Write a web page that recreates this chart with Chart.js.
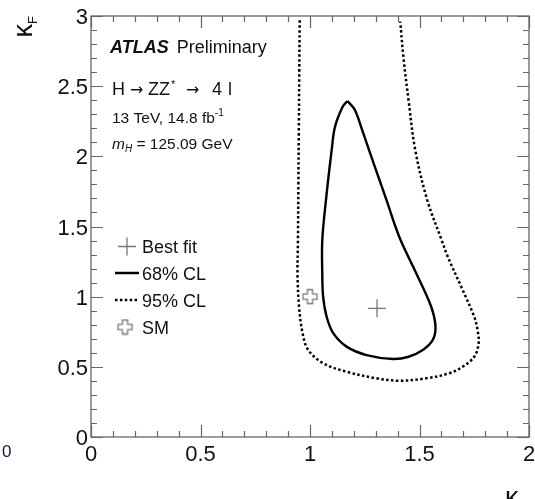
<!DOCTYPE html>
<html>
<head>
<meta charset="utf-8">
<script src="https://cdn.jsdelivr.net/npm/chart.js@4/dist/chart.umd.min.js"></script>
<style>
html,body{margin:0;padding:0;background:#fff;overflow:hidden;}
#c{display:block;}
</style>
</head>
<body>
<canvas id="c" width="535" height="499"></canvas>
<script>
// ---- Data ----
const cl95KappaV = [0.953,0.951,0.949,0.947,0.945,0.943,0.950,0.966,0.992,1.061,1.167,1.303,1.409,1.530,1.636,1.697,1.750,1.770,1.765,1.750,1.697,1.629,1.601,1.535,1.480,1.450,1.427,1.412];
const cl95KappaF = [2.970,2.600,2.200,1.800,1.400,1.160,0.930,0.740,0.620,0.525,0.465,0.418,0.401,0.418,0.454,0.501,0.572,0.668,0.763,0.857,1.048,1.285,1.404,1.690,2.050,2.400,2.700,2.960];
const cl68KappaV = [1.171,1.205,1.242,1.295,1.349,1.390,1.420,1.485,1.553,1.573,1.560,1.515,1.450,1.379,1.258,1.167,1.106,1.076,1.060,1.056,1.056,1.073,1.099,1.114,1.149,1.171];
const cl68KappaF = [2.395,2.330,2.170,1.930,1.690,1.500,1.380,1.167,0.930,0.786,0.690,0.620,0.572,0.556,0.584,0.644,0.740,0.857,1.000,1.167,1.400,1.690,2.045,2.210,2.354,2.395];
const bestFitPoint = [1.306, 0.917];
const smPoint = [1.0, 1.0];

const xTickValues = [0, 0.5, 1, 1.5, 2];
const xTickLabels = ['0', '0.5', '1', '1.5', '2'];
const yTickValues = [0, 0.5, 1, 1.5, 2, 2.5, 3];
const yTickLabels = ['0', '0.5', '1', '1.5', '2', '2.5', '3'];
const legendLabels = ['Best fit', '68% CL', '95% CL', 'SM'];

const FONT = '"Liberation Sans", Arial, Helvetica, sans-serif';
const FRAME = '#666';
const DOTS = [2.5, 2.4];

function zip(a, b){ return a.map((v,i)=>({x:v, y:b[i]})); }

// open-cross marker for SM
function makeOpenCross(){
  const s = 17, c = 8.5, a = 2.6, L = 7;
  const cv = document.createElement('canvas');
  cv.width = s; cv.height = s;
  const g = cv.getContext('2d');
  g.beginPath();
  g.moveTo(c-a, c-L); g.lineTo(c+a, c-L); g.lineTo(c+a, c-a); g.lineTo(c+L, c-a);
  g.lineTo(c+L, c+a); g.lineTo(c+a, c+a); g.lineTo(c+a, c+L); g.lineTo(c-a, c+L);
  g.lineTo(c-a, c+a); g.lineTo(c-L, c+a); g.lineTo(c-L, c-a); g.lineTo(c-a, c-a);
  g.closePath();
  g.fillStyle = '#fff'; g.fill();
  g.strokeStyle = '#777'; g.lineWidth = 1.3; g.stroke();
  return cv;
}
const openCross = makeOpenCross();

const decor = {
  id: 'decor',
  afterDraw(chart){
    const ctx = chart.ctx;
    const ca = chart.chartArea;
    const xs = chart.scales.x, ys = chart.scales.y;
    ctx.save();
    // frame
    ctx.strokeStyle = FRAME; ctx.lineWidth = 1.3;
    ctx.strokeRect(ca.left, ca.top, ca.right - ca.left, ca.bottom - ca.top);
    // ticks
    const MAJ = 12, MIN = 6;
    ctx.beginPath();
    for (let i = 0; i <= 20; i++){
      const v = i * 0.1;
      const len = (i % 5 === 0) ? MAJ : MIN;
      const px = Math.round(xs.getPixelForValue(v)) + 0.5;
      ctx.moveTo(px, ca.bottom); ctx.lineTo(px, ca.bottom - len);
      ctx.moveTo(px, ca.top); ctx.lineTo(px, ca.top + len);
    }
    for (let i = 0; i <= 30; i++){
      const v = i * 0.1;
      const len = (i % 5 === 0) ? MAJ : MIN;
      const py = Math.round(ys.getPixelForValue(v)) + 0.5;
      ctx.moveTo(ca.left, py); ctx.lineTo(ca.left + len, py);
      ctx.moveTo(ca.right, py); ctx.lineTo(ca.right - len, py);
    }
    ctx.lineWidth = 1.2; ctx.stroke();

    ctx.fillStyle = '#111';
    ctx.textBaseline = 'alphabetic';
    ctx.textAlign = 'left';
    // ATLAS Preliminary
    ctx.font = 'italic bold 18px ' + FONT;
    ctx.fillText('ATLAS', 110, 53);
    let w = ctx.measureText('ATLAS').width;
    ctx.font = '18px ' + FONT;
    ctx.fillText('Preliminary', 110 + w + 8, 53);
    // H -> ZZ* -> 4l
    ctx.font = '18px ' + FONT;
    ctx.fillText('H', 112, 95);
    ctx.fillText('ZZ', 148, 95);
    ctx.fillText('4', 212, 95);
    ctx.fillText('l', 228, 95);
    ctx.font = '16px "DejaVu Sans", sans-serif';
    ctx.fillText('\u2192', 130, 95);
    ctx.fillText('\u2192', 186, 95);
    ctx.font = '11px ' + FONT;
    ctx.fillText('*', 171, 88);
    // 13 TeV
    let x = 112;
    ctx.font = '15.5px ' + FONT;
    ctx.fillText('13 TeV, 14.8 fb', x, 123); x += ctx.measureText('13 TeV, 14.8 fb').width;
    ctx.font = '10px ' + FONT;
    ctx.fillText('-1', x, 116);
    // mH
    x = 112;
    ctx.font = 'italic 15.5px ' + FONT;
    ctx.fillText('m', x, 149); x += ctx.measureText('m').width;
    ctx.font = 'italic 10px ' + FONT;
    ctx.fillText('H', x, 152); x += ctx.measureText('H').width;
    ctx.font = '15.5px ' + FONT;
    ctx.fillText(' = 125.09 GeV', x, 149);

    // Legend
    ctx.font = '18px ' + FONT;
    ctx.fillStyle = '#111';
    const lx = 142;
    ctx.strokeStyle = '#777'; ctx.lineWidth = 1.3; ctx.setLineDash([]);
    ctx.beginPath();
    ctx.moveTo(118, 246.5); ctx.lineTo(136, 246.5);
    ctx.moveTo(127, 237.5); ctx.lineTo(127, 255.5);
    ctx.stroke();
    ctx.fillText(legendLabels[0], lx, 252.5);
    ctx.strokeStyle = '#000'; ctx.lineWidth = 2.5;
    ctx.beginPath(); ctx.moveTo(115, 273); ctx.lineTo(139, 273); ctx.stroke();
    ctx.fillText(legendLabels[1], lx, 279.5);
    ctx.setLineDash(DOTS);
    ctx.beginPath(); ctx.moveTo(115, 300); ctx.lineTo(139, 300); ctx.stroke();
    ctx.setLineDash([]);
    ctx.fillText(legendLabels[2], lx, 306.5);
    ctx.drawImage(openCross, 125 - 8.5, 327 - 8.5);
    ctx.fillText(legendLabels[3], lx, 333.5);

    // axis titles
    ctx.fillStyle = '#111';
    ctx.save();
    ctx.translate(32, 0);
    ctx.rotate(-Math.PI/2);
    ctx.textAlign = 'right';
    ctx.font = '13px ' + FONT;
    const fw = ctx.measureText('F').width;
    ctx.fillText('F', -16, 5);
    ctx.font = '27px ' + FONT;
    ctx.fillText('\u03BA', -16 - fw, 0);
    ctx.restore();

    ctx.font = '27px ' + FONT;
    ctx.textAlign = 'left';
    ctx.fillText('\u03BA', 505, 506);
    ctx.font = '13px ' + FONT;
    ctx.fillText('V', 520, 509);

    // stray zero at far left
    ctx.font = '17px ' + FONT;
    ctx.fillStyle = '#0b1a3a';
    ctx.fillText('0', 2, 457);
    ctx.restore();
  }
};

new Chart(document.getElementById('c'), {
  type: 'scatter',
  data: {
    datasets: [
      { label: legendLabels[2], data: zip(cl95KappaV, cl95KappaF), showLine: true, borderColor: '#000', borderWidth: 2.5, borderDash: DOTS, pointRadius: 0, tension: 0.35, fill: false },
      { label: legendLabels[1], data: zip(cl68KappaV, cl68KappaF), showLine: true, borderColor: '#000', borderWidth: 2.4, pointRadius: 0, tension: 0.35, fill: false },
      { label: legendLabels[0], data: [{x: bestFitPoint[0], y: bestFitPoint[1]}], pointStyle: 'cross', radius: 9, borderColor: '#777', borderWidth: 1.3 },
      { label: legendLabels[3], data: [{x: smPoint[0], y: smPoint[1]}], pointStyle: openCross, radius: 8 }
    ]
  },
  options: {
    responsive: false,
    animation: false,
    devicePixelRatio: 1,
    layout: { autoPadding: false, padding: { top: 16, right: 6, left: 0, bottom: 0 } },
    plugins: { legend: { display: false }, tooltip: { enabled: false } },
    scales: {
      x: {
        type: 'linear', min: 0, max: 2,
        grid: { display: false, drawTicks: false },
        border: { display: false },
        afterFit(s){ s.height = 62; s.paddingRight = 0; s.paddingLeft = 0; },
        ticks: {
          stepSize: 0.5, autoSkip: false, maxRotation: 0, padding: 5,
          color: '#111', font: { family: FONT, size: 22 },
          callback(v){ const i = xTickValues.findIndex(m => Math.abs(m - v) < 1e-6); return i >= 0 ? xTickLabels[i] : ''; }
        }
      },
      y: {
        type: 'linear', min: 0, max: 3,
        grid: { display: false, drawTicks: false },
        border: { display: false },
        afterFit(s){ s.width = 91; s.paddingTop = 0; s.paddingBottom = 0; },
        ticks: {
          stepSize: 0.5, autoSkip: false, padding: 3, labelOffset: 2,
          color: '#111', font: { family: FONT, size: 22 },
          callback(v){ const i = yTickValues.findIndex(m => Math.abs(m - v) < 1e-6); return i >= 0 ? yTickLabels[i] : ''; }
        }
      }
    }
  },
  plugins: [decor]
});
</script>
</body>
</html>
